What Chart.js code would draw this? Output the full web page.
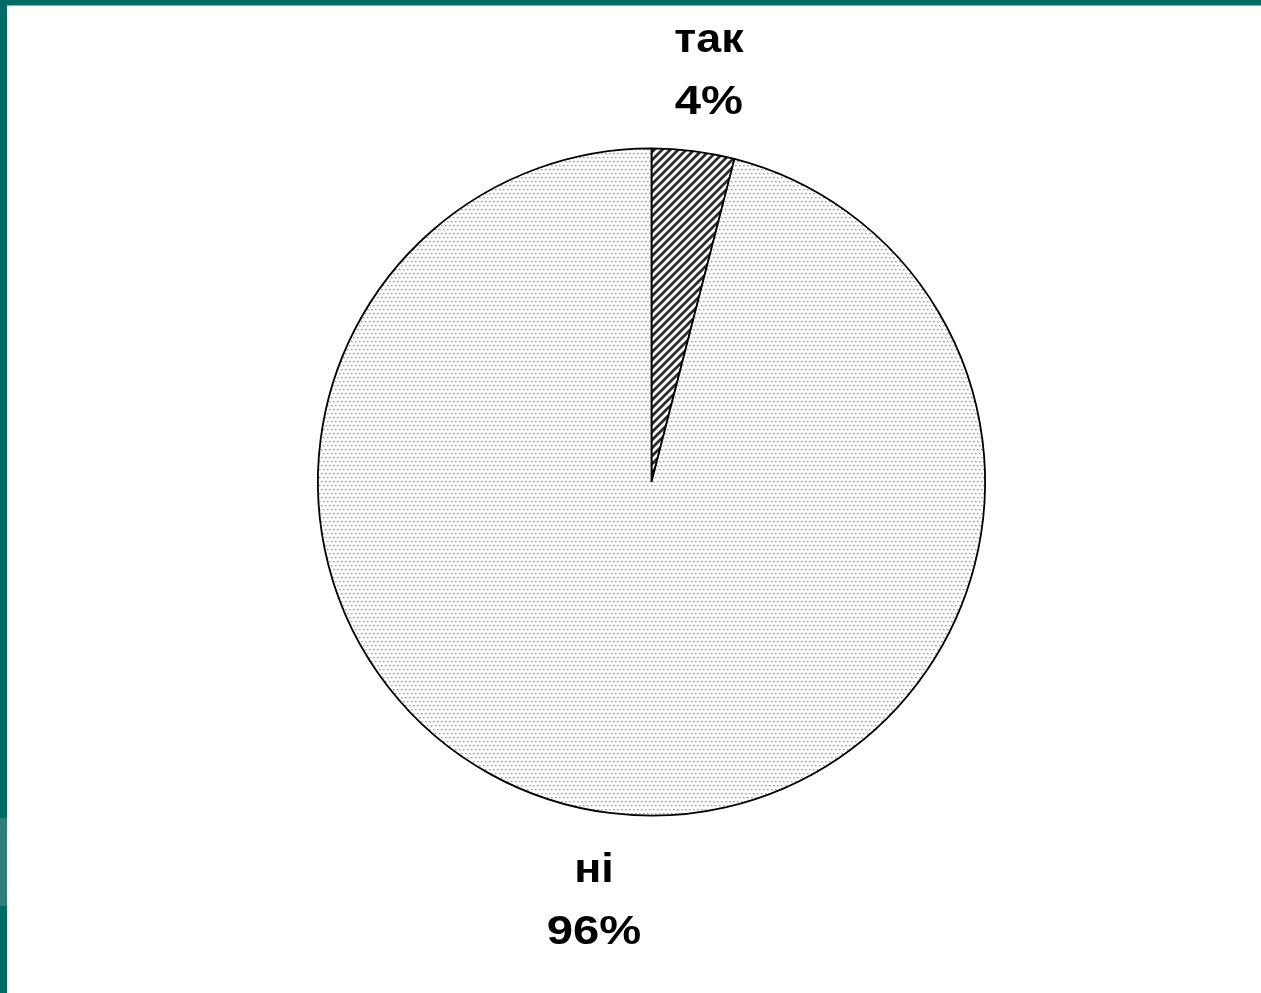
<!DOCTYPE html>
<html>
<head>
<meta charset="utf-8">
<script src="https://cdn.jsdelivr.net/npm/chart.js@4.4.1/dist/chart.umd.min.js"></script>
<style>
  html, body { margin: 0; padding: 0; width: 1261px; height: 993px; overflow: hidden; background: #006b66; }
  #frame { position: absolute; left: 7px; top: 5px; width: 1254px; height: 988px; background: #ffffff; }
  #topline { position: absolute; left: 7px; top: 5px; width: 1254px; height: 1px; background: #7fb3b0; }
  #patch { position: absolute; left: 0; top: 818px; width: 7px; height: 88px; background: #2b7e79; }
  #wrap { position: absolute; left: 0; top: 0; width: 1254px; height: 988px; }
</style>
</head>
<body>
<div id="frame"><div id="wrap"><canvas id="c"></canvas></div></div>
<div id="topline"></div>
<div id="patch"></div>
<script>
const categories = ['так', 'ні'];
const values = [4, 96];

function dotPattern() {
  const p = document.createElement('canvas');
  p.width = 4; p.height = 8;
  const g = p.getContext('2d');
  g.fillStyle = '#ffffff'; g.fillRect(0, 0, 4, 8);
  g.fillStyle = '#9a9a9a';
  g.fillRect(0, 0, 1, 1);
  g.fillRect(2, 4, 1, 1);
  g.fillStyle = '#c4c4c4';
  g.fillRect(1, 0, 1, 1);
  g.fillRect(3, 4, 1, 1);
  g.fillStyle = '#e4e4e4';
  g.fillRect(0, 1, 2, 1);
  g.fillRect(2, 5, 2, 1);
  return g.createPattern(p, 'repeat');
}
function hatchPattern() {
  const s = 8;
  const p = document.createElement('canvas');
  p.width = s; p.height = s;
  const g = p.getContext('2d');
  g.fillStyle = '#ffffff'; g.fillRect(0, 0, s, s);
  g.strokeStyle = '#2a2a2a'; g.lineWidth = 2.8;
  g.beginPath();
  g.moveTo(-2, s + 2); g.lineTo(s + 2, -2);
  g.moveTo(-2, 2); g.lineTo(2, -2);
  g.moveTo(s - 2, s + 2); g.lineTo(s + 2, s - 2);
  g.stroke();
  return g.createPattern(p, 'repeat');
}

const labelPlugin = {
  id: 'outerLabels',
  afterDatasetsDraw(chart) {
    const ctx = chart.ctx;
    const meta = chart.getDatasetMeta(0);
    const data = chart.data.datasets[0].data;
    const total = data.reduce((a, b) => a + b, 0);
    meta.data.forEach((arc, i) => {
      const mid = (arc.startAngle + arc.endAngle) / 2;
      const d = arc.outerRadius * 1.255;
      const cx = Math.cos(mid);
      const x = arc.x + cx * d + Math.sign(cx) * 5;
      const y = arc.y + Math.sin(mid) * d + 5;
      const pct = Math.round(data[i] / total * 100) + '%';
      ctx.save();
      ctx.fillStyle = '#000000';
      ctx.textAlign = 'center';
      ctx.textBaseline = 'middle';
      ctx.font = 'bold 40px "Liberation Sans", Arial, sans-serif';
      ctx.translate(x, y);
      ctx.save();
      ctx.scale(1.12, 1);
      ctx.fillText(chart.data.labels[i], 0, -31);
      ctx.restore();
      ctx.scale(1.18, 1);
      ctx.fillText(pct, 0, 31);
      ctx.restore();
    });
  }
};

new Chart(document.getElementById('c'), {
  type: 'pie',
  data: {
    labels: categories,
    datasets: [{
      data: values,
      backgroundColor: [hatchPattern(), dotPattern()],
      borderColor: '#000000',
      borderWidth: 1.8
    }]
  },
  options: {
    responsive: true,
    maintainAspectRatio: false,
    animation: false,
    layout: { padding: { left: 310, top: 142, right: 275, bottom: 176 } },
    plugins: { legend: { display: false }, tooltip: { enabled: false } }
  },
  plugins: [labelPlugin]
});
</script>
</body>
</html>
